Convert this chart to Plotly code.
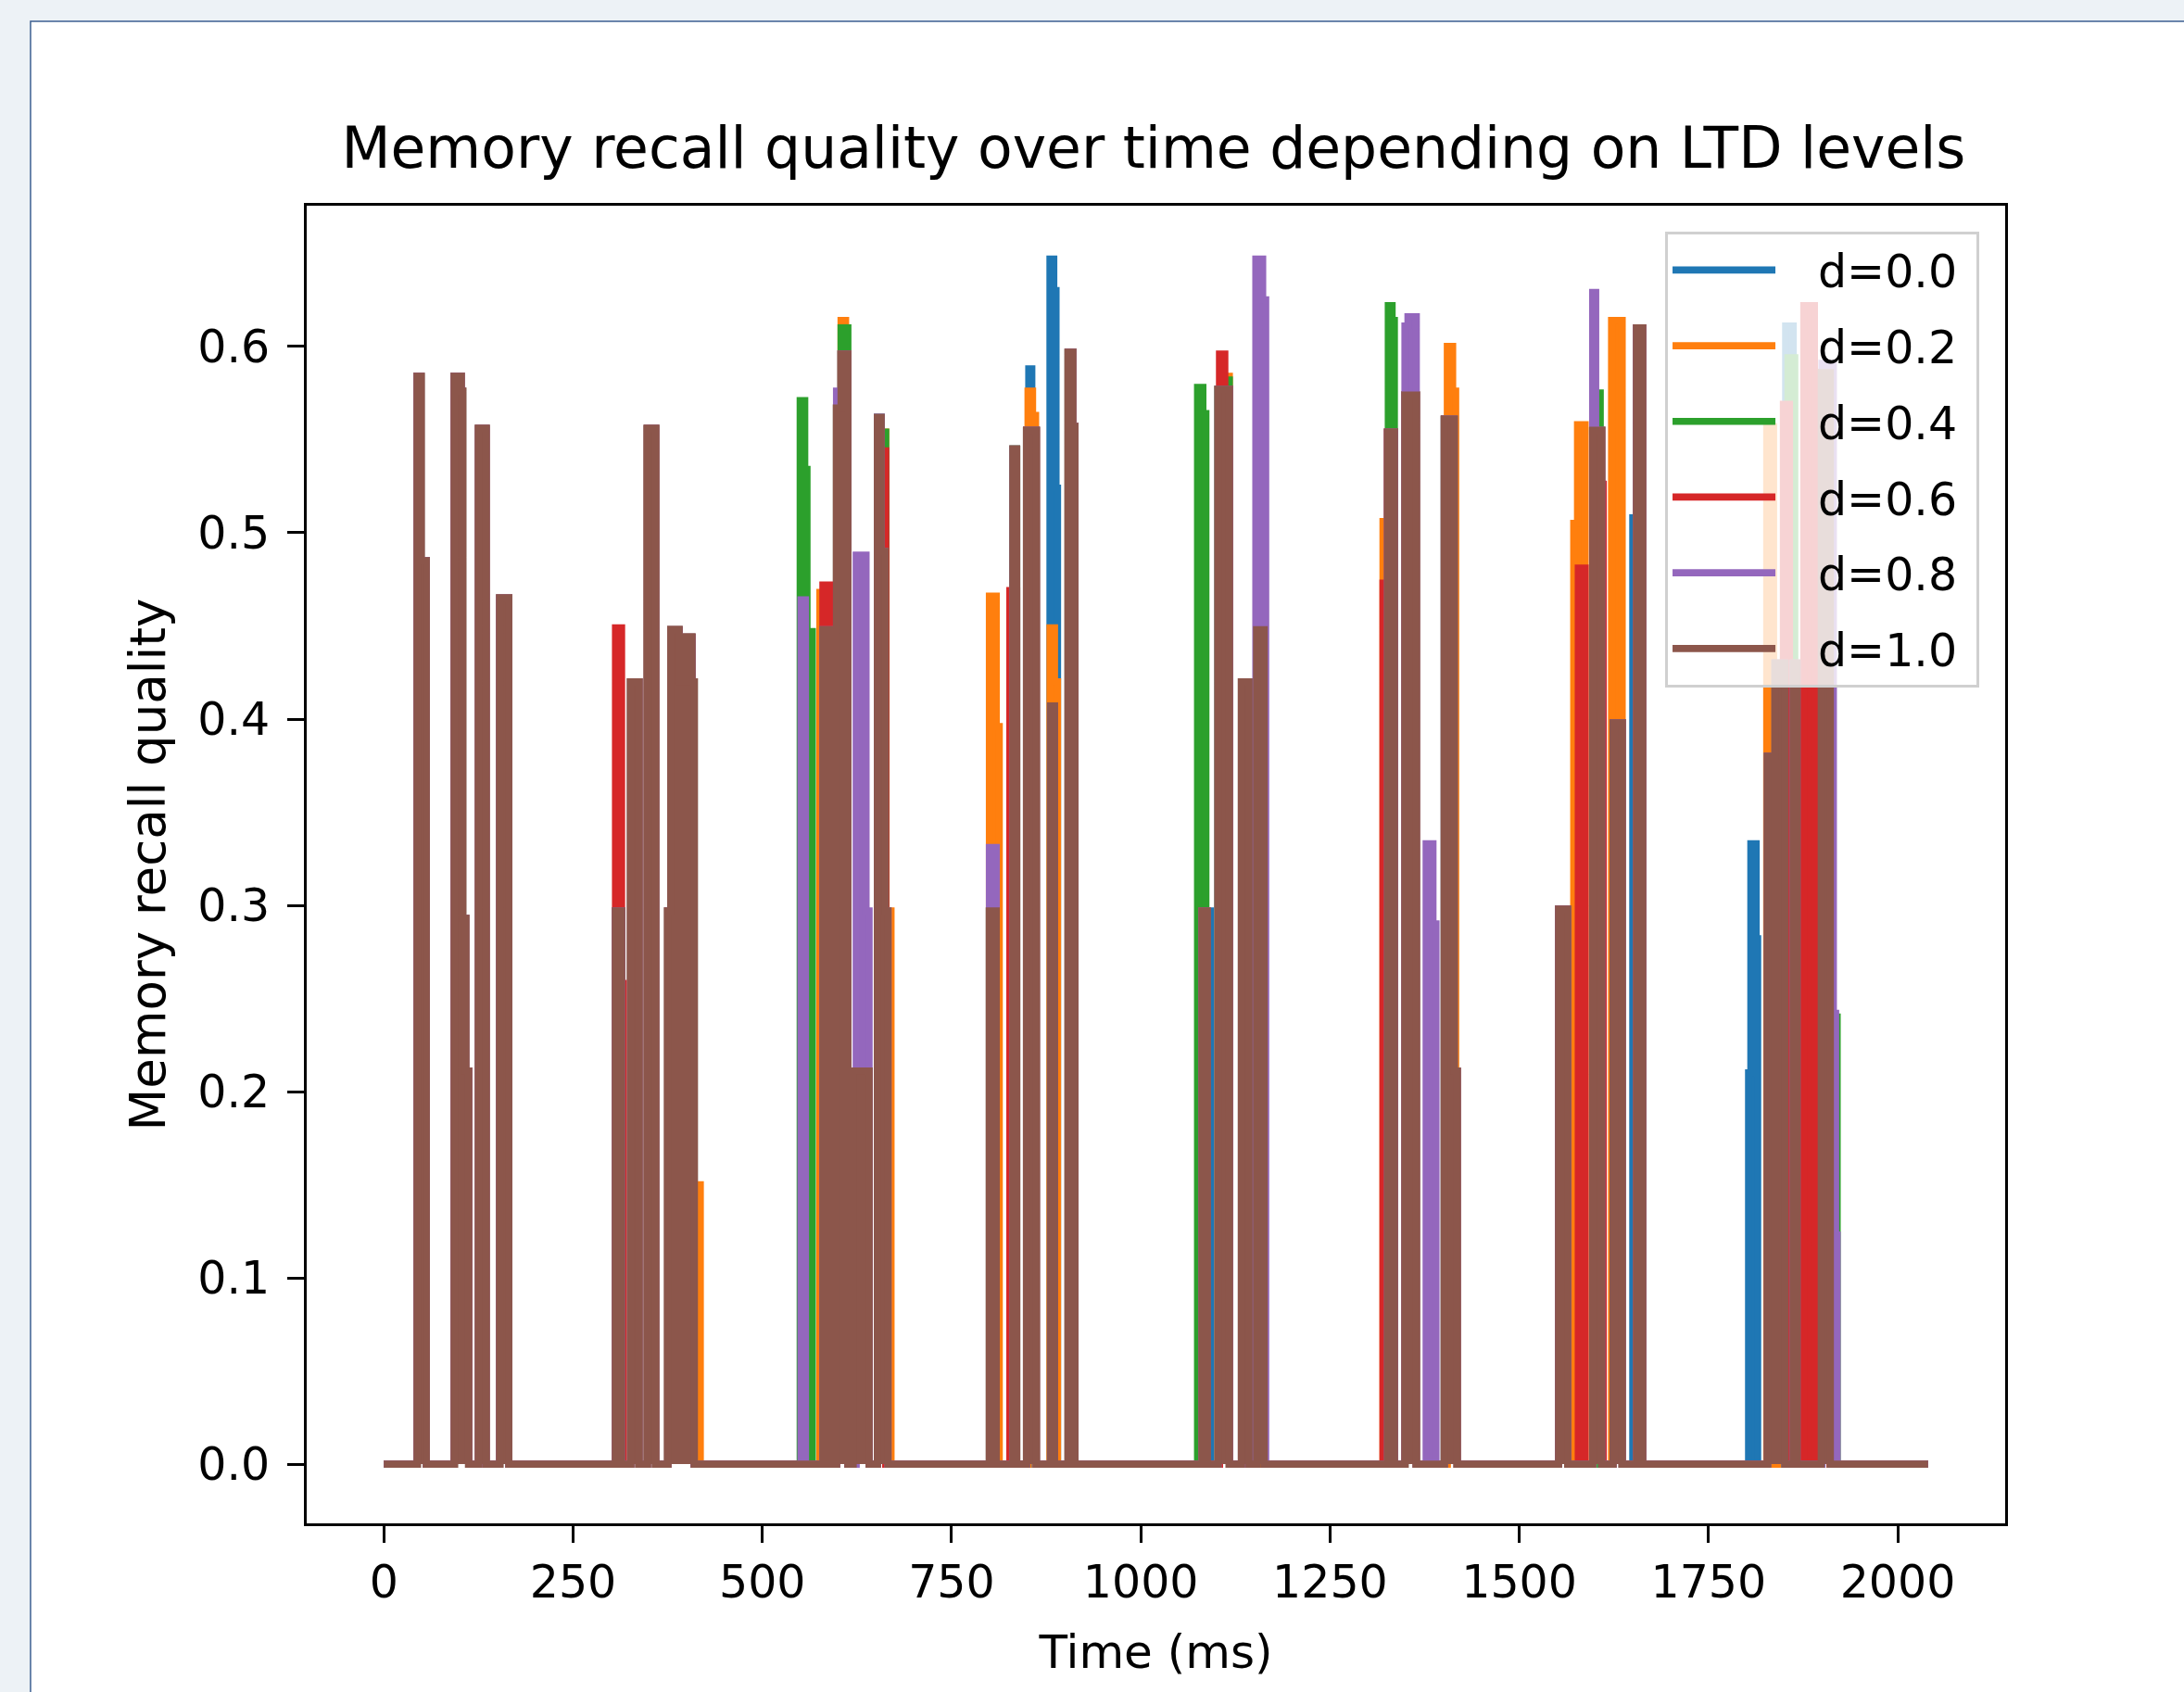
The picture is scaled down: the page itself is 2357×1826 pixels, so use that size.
import plotly.graph_objects as go

# ---------------- data ----------------
X_TICKS = [0, 250, 500, 750, 1000, 1250, 1500, 1750, 2000]
Y_TICKS = [0.0, 0.1, 0.2, 0.3, 0.4, 0.5, 0.6]
Y_TICK_TEXT = ["0.0", "0.1", "0.2", "0.3", "0.4", "0.5", "0.6"]
LABELS = ["d=0.0", "d=0.2", "d=0.4", "d=0.6", "d=0.8", "d=1.0"]
COLORS = ["#1f77b4", "#ff7f0e", "#2ca02c", "#d62728", "#9467bd", "#8c564b"]

# (time in ms, recall quality) change points; each value holds until the next time
D00 = [(0, 0), (44, 0.584), (49, 0.485), (56, 0), (93, 0.584), (102, 0.576), (104, 0.293), (108, 0.211), (112, 0),
       (125, 0.556), (135, 0), (153, 0.465), (165, 0),
       (306, 0.297), (314, 0), (326, 0.420), (337, 0), (348, 0.556), (359, 0), (375, 0.297), (379, 0.448),
       (390, 0.420), (398, 0.444), (407, 0.420), (410, 0),
       (580, 0.448), (589, 0), (598, 0.567), (604, 0.596), (613, 0), (620, 0.211), (641, 0), (652, 0.562),
       (657, 0.490), (662, 0.297), (666, 0),
       (800, 0.297), (809, 0), (831, 0.545), (836, 0), (852, 0.588), (856, 0), (880, 0.647), (885, 0.630),
       (888, 0.524), (890, 0), (904, 0.597), (910, 0.557), (913, 0),
       (1081, 0.297), (1092, 0), (1102, 0.577), (1117, 0), (1133, 0.420), (1143, 0), (1153, 0.448), (1163, 0),
       (1326, 0.554), (1335, 0), (1349, 0.574), (1364, 0), (1401, 0.561), (1414, 0.211), (1418, 0),
       (1552, 0.298), (1564, 0), (1597, 0.555), (1609, 0), (1624, 0.398), (1636, 0), (1650, 0.508), (1660, 0),
       (1803, 0.210), (1806, 0.333), (1813, 0.282), (1815, 0), (1852, 0.611), (1862, 0), (1899, 0.586), (1911, 0),
       (2040, 0)]

D02 = [(0, 0), (44, 0.584), (49, 0.485), (56, 0), (93, 0.584), (102, 0.576), (104, 0.293), (108, 0.211), (112, 0),
       (125, 0.556), (135, 0), (153, 0.465), (165, 0),
       (306, 0.297), (314, 0), (326, 0.420), (337, 0), (348, 0.556), (359, 0), (375, 0.297), (379, 0.448),
       (390, 0.420), (398, 0.444), (407, 0.420), (410, 0.150), (418, 0),
       (576, 0.468), (589, 0), (598, 0.567), (604, 0.614), (610, 0.596), (613, 0), (620, 0.211), (641, 0),
       (652, 0.554), (663, 0), (665, 0.297), (670, 0),
       (800, 0.466), (809, 0.396), (813, 0), (831, 0.545), (836, 0), (851, 0.576), (857, 0.563), (861, 0),
       (880, 0.449), (886, 0.420), (890, 0), (904, 0.597), (910, 0.557), (913, 0),
       (1081, 0.297), (1088, 0), (1102, 0.577), (1110, 0.584), (1117, 0), (1133, 0.420), (1143, 0),
       (1153, 0.448), (1163, 0),
       (1320, 0.506), (1326, 0.554), (1335, 0), (1349, 0.574), (1364, 0), (1405, 0.600), (1412, 0.576),
       (1416, 0.211), (1418, 0),
       (1552, 0.298), (1564, 0), (1572, 0.505), (1577, 0.558), (1587, 0), (1597, 0.555), (1609, 0),
       (1622, 0.614), (1636, 0), (1655, 0.610), (1663, 0),
       (1827, 0.557), (1836, 0), (1882, 0.298), (1886, 0), (1899, 0.586), (1911, 0),
       (2040, 0)]

D04 = [(0, 0), (44, 0.584), (49, 0.485), (56, 0), (93, 0.584), (102, 0.576), (104, 0.293), (108, 0.211), (112, 0),
       (125, 0.556), (135, 0), (153, 0.465), (165, 0),
       (306, 0.297), (314, 0), (326, 0.420), (337, 0), (348, 0.556), (359, 0), (375, 0.297), (379, 0.448),
       (390, 0.420), (398, 0.444), (407, 0.420), (410, 0),
       (550, 0.571), (556, 0.534), (559, 0.447), (566, 0), (580, 0.448), (589, 0), (598, 0.567), (604, 0.610),
       (613, 0), (620, 0.211), (641, 0), (652, 0.554), (663, 0),
       (800, 0.297), (809, 0), (831, 0.545), (836, 0), (849, 0.555), (862, 0), (881, 0.407), (886, 0),
       (904, 0.597), (910, 0.557), (913, 0),
       (1075, 0.578), (1082, 0.564), (1086, 0), (1102, 0.577), (1111, 0.582), (1117, 0), (1133, 0.420),
       (1143, 0), (1153, 0.448), (1163, 0),
       (1327, 0.622), (1332, 0.614), (1335, 0), (1349, 0.574), (1364, 0), (1401, 0.561), (1414, 0.211), (1418, 0),
       (1552, 0.298), (1564, 0), (1597, 0.555), (1599, 0.575), (1607, 0), (1624, 0.398), (1636, 0),
       (1655, 0.610), (1663, 0),
       (1828, 0.380), (1838, 0.430), (1851, 0), (1855, 0.594), (1864, 0), (1877, 0.212), (1889, 0),
       (1899, 0.586), (1913, 0.240), (1920, 0),
       (2040, 0)]

D06 = [(0, 0), (44, 0.584), (49, 0.485), (56, 0), (93, 0.584), (102, 0.576), (104, 0.293), (108, 0.211), (112, 0),
       (125, 0.556), (135, 0), (153, 0.465), (165, 0),
       (306, 0.449), (314, 0.258), (316, 0), (326, 0.420), (337, 0), (348, 0.556), (359, 0), (375, 0.297),
       (379, 0.448), (390, 0.420), (398, 0.444), (407, 0.420), (410, 0),
       (580, 0.472), (589, 0), (598, 0.567), (604, 0.596), (613, 0), (620, 0.211), (641, 0), (652, 0.544), (663, 0),
       (800, 0.297), (809, 0), (827, 0.469), (836, 0), (849, 0.555), (862, 0), (881, 0.407), (886, 0),
       (904, 0.597), (910, 0.557), (913, 0),
       (1081, 0.297), (1088, 0), (1104, 0.596), (1111, 0.577), (1117, 0), (1133, 0.420), (1143, 0),
       (1153, 0.448), (1163, 0),
       (1320, 0.473), (1326, 0.554), (1335, 0), (1349, 0.574), (1364, 0), (1382, 0.187), (1385, 0),
       (1401, 0.561), (1414, 0.211), (1418, 0),
       (1552, 0.298), (1564, 0), (1578, 0.481), (1587, 0), (1597, 0.555), (1603, 0.526), (1611, 0),
       (1624, 0.398), (1636, 0), (1655, 0.610), (1663, 0),
       (1828, 0.380), (1838, 0.430), (1849, 0.569), (1857, 0.119), (1859, 0), (1862, 0.430), (1867, 0),
       (1876, 0.622), (1890, 0), (1899, 0.586), (1911, 0),
       (2040, 0)]

D08 = [(0, 0), (44, 0.584), (49, 0.485), (56, 0), (93, 0.584), (102, 0.576), (104, 0.293), (108, 0.211), (112, 0),
       (125, 0.556), (135, 0), (153, 0.465), (165, 0),
       (306, 0.297), (314, 0), (326, 0.420), (337, 0), (348, 0.556), (359, 0), (375, 0.297), (379, 0.448),
       (390, 0.420), (398, 0.444), (407, 0.420), (410, 0),
       (551, 0.464), (557, 0), (580, 0.448), (589, 0), (598, 0.576), (604, 0.596), (613, 0), (624, 0.488),
       (637, 0.297), (641, 0), (652, 0.562), (657, 0.490), (662, 0.297), (666, 0),
       (800, 0.331), (809, 0), (831, 0.545), (836, 0), (849, 0.555), (862, 0), (881, 0.407), (886, 0),
       (904, 0.597), (910, 0.557), (913, 0),
       (1081, 0.297), (1088, 0), (1102, 0.577), (1117, 0), (1133, 0.420), (1143, 0), (1152, 0.647),
       (1161, 0.625), (1165, 0),
       (1326, 0.554), (1335, 0), (1349, 0.611), (1353, 0.616), (1364, 0), (1377, 0.333), (1386, 0.290),
       (1390, 0), (1401, 0.561), (1414, 0.211), (1418, 0),
       (1552, 0.298), (1564, 0), (1597, 0.629), (1601, 0.555), (1609, 0), (1624, 0.398), (1636, 0),
       (1655, 0.610), (1663, 0),
       (1828, 0.380), (1838, 0.430), (1851, 0), (1862, 0.430), (1867, 0), (1900, 0.591), (1915, 0.242),
       (1918, 0.123), (1920, 0),
       (2040, 0)]

D10 = [(0, 0), (44, 0.584), (49, 0.485), (56, 0), (93, 0.584), (102, 0.576), (104, 0.293), (108, 0.211), (112, 0),
       (125, 0.556), (135, 0), (153, 0.465), (165, 0),
       (306, 0.297), (314, 0), (326, 0.420), (337, 0), (348, 0.556), (359, 0), (375, 0.297), (379, 0.448),
       (390, 0.420), (398, 0.444), (407, 0.420), (410, 0),
       (580, 0.448), (589, 0), (598, 0.567), (604, 0.596), (613, 0), (620, 0.211), (641, 0), (652, 0.562),
       (657, 0.490), (662, 0.297), (666, 0),
       (800, 0.297), (809, 0), (831, 0.545), (836, 0), (849, 0.555), (862, 0), (881, 0.407), (886, 0),
       (904, 0.597), (910, 0.557), (913, 0),
       (1081, 0.297), (1088, 0), (1102, 0.577), (1117, 0), (1133, 0.420), (1143, 0), (1153, 0.448), (1163, 0),
       (1326, 0.554), (1335, 0), (1349, 0.574), (1364, 0), (1401, 0.561), (1414, 0.211), (1418, 0),
       (1552, 0.298), (1564, 0), (1597, 0.555), (1609, 0), (1624, 0.398), (1636, 0), (1655, 0.610), (1663, 0),
       (1828, 0.380), (1838, 0.430), (1851, 0), (1862, 0.430), (1867, 0), (1899, 0.586), (1911, 0),
       (2040, 0)]

SERIES = [D00, D02, D04, D06, D08, D10]

# ---------------- figure ----------------
FONT = "DejaVu Sans"
LW = 7.7
fig = go.Figure()
for name, color, pts in zip(LABELS, COLORS, SERIES):
    t = [p[0] for p in pts]
    v = [p[1] for p in pts]
    # solid body of the thick, densely packed line (as in the rasterised original)
    fig.add_trace(go.Scatter(
        x=t, y=v, mode="lines", fill="tozeroy", fillcolor=color,
        line=dict(color=color, width=0, shape="hv"),
        showlegend=False, legendgroup=name, hoverinfo="skip",
    ))
    fig.add_trace(go.Scatter(
        x=t, y=v, mode="lines", name="\u00a0\u00a0\u2009" + name + "\u00a0", legendgroup=name,
        line=dict(color=color, width=LW, shape="hv"),
    ))

axis_common = dict(
    ticks="outside", ticklen=18, tickwidth=3, tickcolor="black",
    showline=True, linewidth=3, linecolor="black", mirror=True,
    showgrid=False, zeroline=False,
    tickfont=dict(family=FONT, size=49, color="black"),
)

fig.update_layout(
    width=2357, height=1826, autosize=False,
    margin=dict(l=331, r=193, t=222, b=182, pad=0),
    paper_bgcolor="rgb(237,242,246)", plot_bgcolor="white",
    font=dict(family=FONT, size=49, color="black"),
    title=dict(text="Memory recall quality over time depending on LTD levels",
               x=0.4986, xref="paper", xanchor="center",
               y=0.9129, yref="container", yanchor="middle",
               font=dict(family=FONT, size=61.5, color="black")),
    showlegend=True,
    legend=dict(x=0.7998, y=0.9803, xanchor="left", yanchor="top",
                bgcolor="rgba(255,255,255,0.8)", bordercolor="#d0d0d0", borderwidth=3,
                font=dict(family=FONT, size=49, color="black"),
                itemwidth=111, tracegroupgap=15, traceorder="grouped"),
    xaxis=dict(range=[-102, 2142], tickvals=X_TICKS, ticklabelstandoff=0,
               title=dict(text="Time (ms)", font=dict(family=FONT, size=50, color="black"), standoff=31),
               **axis_common),
    yaxis=dict(range=[-0.0318, 0.6756], tickvals=Y_TICKS, ticktext=Y_TICK_TEXT, ticklabelstandoff=9,
               title=dict(text="Memory recall quality", font=dict(family=FONT, size=53, color="black"), standoff=18),
               **axis_common),
    shapes=[dict(type="rect", xref="paper", yref="paper",
                 x0=-0.1626, x1=1.25, y0=-0.25, y1=1.1399,
                 fillcolor="white", line=dict(color="rgb(60,95,145)", width=1.5), layer="below")],
)

fig.write_html(
    "out.html",
    config={"displayModeBar": False},
    post_script="document.body.style.margin='0px';document.body.style.background='rgb(237,242,246)';",
)
